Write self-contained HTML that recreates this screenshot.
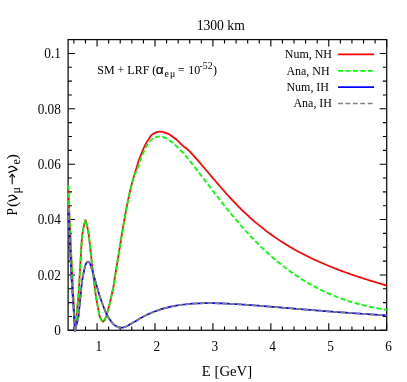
<!DOCTYPE html>
<html><head><meta charset="utf-8"><title>plot</title>
<style>html,body{margin:0;padding:0;background:#fff;}body{width:407px;height:382px;overflow:hidden;position:relative;font-family:"Liberation Serif",serif;}</style></head>
<body>
<svg width="407" height="382" viewBox="0 0 407 382" style="position:absolute;left:0;top:0;will-change:transform;opacity:0.999">
<rect width="407" height="382" fill="#fff"/>
<path d="M73.89 330.3v-3.8M73.89 39.6v3.8M85.48 330.3v-3.8M85.48 39.6v3.8M97.06 330.3v-7M97.06 39.6v7M108.65 330.3v-3.8M108.65 39.6v3.8M120.23 330.3v-3.8M120.23 39.6v3.8M131.82 330.3v-3.8M131.82 39.6v3.8M143.41 330.3v-3.8M143.41 39.6v3.8M154.99 330.3v-7M154.99 39.6v7M166.58 330.3v-3.8M166.58 39.6v3.8M178.16 330.3v-3.8M178.16 39.6v3.8M189.75 330.3v-3.8M189.75 39.6v3.8M201.33 330.3v-3.8M201.33 39.6v3.8M212.92 330.3v-7M212.92 39.6v7M224.50 330.3v-3.8M224.50 39.6v3.8M236.09 330.3v-3.8M236.09 39.6v3.8M247.67 330.3v-3.8M247.67 39.6v3.8M259.26 330.3v-3.8M259.26 39.6v3.8M270.85 330.3v-7M270.85 39.6v7M282.43 330.3v-3.8M282.43 39.6v3.8M294.02 330.3v-3.8M294.02 39.6v3.8M305.60 330.3v-3.8M305.60 39.6v3.8M317.19 330.3v-3.8M317.19 39.6v3.8M328.77 330.3v-7M328.77 39.6v7M340.36 330.3v-3.8M340.36 39.6v3.8M351.94 330.3v-3.8M351.94 39.6v3.8M363.53 330.3v-3.8M363.53 39.6v3.8M375.11 330.3v-3.8M375.11 39.6v3.8M386.70 330.3v-7M386.70 39.6v7M68.1 330.30h7M386.7 330.30h-7M68.1 316.46h3.8M386.7 316.46h-3.8M68.1 302.61h3.8M386.7 302.61h-3.8M68.1 288.77h3.8M386.7 288.77h-3.8M68.1 274.93h7M386.7 274.93h-7M68.1 261.09h3.8M386.7 261.09h-3.8M68.1 247.24h3.8M386.7 247.24h-3.8M68.1 233.40h3.8M386.7 233.40h-3.8M68.1 219.56h7M386.7 219.56h-7M68.1 205.71h3.8M386.7 205.71h-3.8M68.1 191.87h3.8M386.7 191.87h-3.8M68.1 178.03h3.8M386.7 178.03h-3.8M68.1 164.19h7M386.7 164.19h-7M68.1 150.34h3.8M386.7 150.34h-3.8M68.1 136.50h3.8M386.7 136.50h-3.8M68.1 122.66h3.8M386.7 122.66h-3.8M68.1 108.81h7M386.7 108.81h-7M68.1 94.97h3.8M386.7 94.97h-3.8M68.1 81.13h3.8M386.7 81.13h-3.8M68.1 67.29h3.8M386.7 67.29h-3.8M68.1 53.44h7M386.7 53.44h-7" stroke="#000" stroke-width="1.1" fill="none"/>
<rect x="68.1" y="39.6" width="318.6" height="290.7" fill="none" stroke="#0a0a0a" stroke-width="1.25"/>
<g fill="none" stroke-linejoin="round" stroke-linecap="butt" stroke-width="1.7">
<path d="M68.10 185.50 L71.57 262.00 L75.05 330.50 L78.52 295.00 L82.00 236.00 L83.76 226.30 L85.47 219.90 L87.24 226.30 L88.95 236.00 L92.42 268.00 L95.90 296.30 L99.38 315.40 L101.10 319.70 L102.85 321.80 L104.60 320.10 L106.32 316.00 L109.80 303.50 L113.28 287.50 L116.75 266.00 C117.33 262.40 119.07 251.52 120.22 244.40 C121.38 237.28 122.54 229.92 123.70 223.30 C124.86 216.68 126.02 210.52 127.17 204.70 C128.33 198.88 129.49 193.23 130.65 188.40 C131.81 183.57 133.28 178.70 134.12 175.70 C134.97 172.70 134.95 172.87 135.70 170.40 C136.45 167.93 137.50 164.05 138.60 160.90 C139.70 157.75 141.18 154.22 142.30 151.50 C143.42 148.78 144.28 146.58 145.30 144.60 C146.32 142.62 147.37 141.17 148.40 139.60 C149.43 138.03 150.32 136.37 151.50 135.20 C152.68 134.03 154.05 133.18 155.50 132.60 C156.95 132.02 158.63 131.70 160.20 131.70 C161.77 131.70 163.42 132.17 164.90 132.60 C166.38 133.03 167.70 133.52 169.10 134.30 C170.50 135.08 171.90 136.23 173.30 137.30 C174.70 138.37 176.12 139.48 177.50 140.70 C178.88 141.92 180.35 143.43 181.60 144.60 C182.85 145.77 184.27 147.14 185.00 147.70 C185.73 148.26 185.17 147.28 186.00 147.98 C186.83 148.67 188.67 150.53 190.00 151.89 C191.33 153.25 192.67 154.68 194.00 156.13 C195.33 157.58 196.67 159.09 198.00 160.61 C199.33 162.13 200.67 163.68 202.00 165.24 C203.33 166.80 204.67 168.39 206.00 169.97 C207.33 171.55 208.67 173.14 210.00 174.73 C211.33 176.31 212.67 177.90 214.00 179.48 C215.33 181.05 216.67 182.62 218.00 184.17 C219.33 185.72 220.67 187.27 222.00 188.79 C223.33 190.31 224.67 191.81 226.00 193.30 C227.33 194.78 228.67 196.25 230.00 197.69 C231.33 199.13 232.67 200.55 234.00 201.95 C235.33 203.35 236.67 204.72 238.00 206.07 C239.33 207.42 240.67 208.74 242.00 210.04 C243.33 211.34 244.67 212.61 246.00 213.86 C247.33 215.11 248.67 216.34 250.00 217.54 C251.33 218.74 252.67 219.92 254.00 221.07 C255.33 222.22 256.67 223.35 258.00 224.45 C259.33 225.56 260.67 226.64 262.00 227.70 C263.33 228.76 264.67 229.79 266.00 230.81 C267.33 231.82 268.67 232.81 270.00 233.78 C271.33 234.75 272.67 235.70 274.00 236.64 C275.33 237.57 276.67 238.48 278.00 239.37 C279.33 240.26 280.67 241.13 282.00 241.98 C283.33 242.84 284.67 243.67 286.00 244.49 C287.33 245.31 288.67 246.11 290.00 246.90 C291.33 247.69 292.67 248.46 294.00 249.21 C295.33 249.96 296.67 250.70 298.00 251.43 C299.33 252.15 300.67 252.86 302.00 253.56 C303.33 254.25 304.67 254.94 306.00 255.61 C307.33 256.28 308.67 256.93 310.00 257.58 C311.33 258.22 312.67 258.86 314.00 259.48 C315.33 260.10 316.67 260.71 318.00 261.31 C319.33 261.91 320.67 262.50 322.00 263.08 C323.33 263.66 324.67 264.23 326.00 264.79 C327.33 265.35 328.67 265.90 330.00 266.44 C331.33 266.98 332.67 267.51 334.00 268.04 C335.33 268.56 336.67 269.08 338.00 269.59 C339.33 270.10 340.67 270.60 342.00 271.10 C343.33 271.59 344.67 272.08 346.00 272.56 C347.33 273.04 348.67 273.51 350.00 273.98 C351.33 274.45 352.67 274.91 354.00 275.36 C355.33 275.82 356.67 276.27 358.00 276.71 C359.33 277.16 360.67 277.59 362.00 278.03 C363.33 278.46 364.67 278.89 366.00 279.31 C367.33 279.74 368.67 280.15 370.00 280.57 C371.33 280.98 372.67 281.39 374.00 281.80 C375.33 282.20 376.67 282.60 378.00 283.00 C379.33 283.40 380.67 283.79 382.00 284.18 C383.33 284.57 385.22 285.11 386.00 285.34 C386.78 285.56 386.58 285.50 386.70 285.54" stroke="#ff0000"/>
<path d="M68.10 185.50 L71.57 262.00 L75.05 330.50 L78.52 295.00 L82.00 236.00 L83.76 226.30 L85.47 219.90 L87.24 226.30 L88.95 236.00 L92.42 268.00 L95.90 296.30 L99.38 315.40 L101.10 319.70 L102.85 321.80 L104.60 320.10 L106.32 316.00 L109.80 303.50 L113.28 287.50 L116.75 266.00 C117.33 262.40 119.07 251.52 120.22 244.40 C121.38 237.28 122.54 229.92 123.70 223.30 C124.86 216.68 126.02 210.52 127.17 204.70 C128.33 198.88 129.49 193.23 130.65 188.40 C131.81 183.57 133.10 178.70 134.12 175.70 C135.15 172.70 135.84 172.87 136.80 170.40 C137.76 167.93 138.72 164.05 139.90 160.90 C141.08 157.75 142.97 153.70 143.90 151.50 C144.83 149.30 144.72 149.15 145.50 147.70 C146.28 146.25 147.55 144.18 148.60 142.80 C149.65 141.42 150.60 140.35 151.80 139.40 C153.00 138.45 154.48 137.58 155.80 137.10 C157.12 136.62 158.37 136.47 159.70 136.50 C161.03 136.53 162.42 136.82 163.80 137.30 C165.18 137.78 166.60 138.53 168.00 139.40 C169.40 140.27 170.80 141.37 172.20 142.50 C173.60 143.63 175.00 144.88 176.40 146.20 C177.80 147.52 179.17 149.00 180.60 150.40 C182.03 151.80 184.10 153.60 185.00 154.60 C185.90 155.60 185.17 155.30 186.00 156.41 C186.83 157.52 188.67 159.60 190.00 161.25 C191.33 162.89 192.67 164.57 194.00 166.26 C195.33 167.95 196.67 169.67 198.00 171.40 C199.33 173.13 200.67 174.87 202.00 176.61 C203.33 178.36 204.67 180.11 206.00 181.86 C207.33 183.61 208.67 185.37 210.00 187.12 C211.33 188.86 212.67 190.61 214.00 192.35 C215.33 194.08 216.67 195.81 218.00 197.53 C219.33 199.25 220.67 200.96 222.00 202.65 C223.33 204.34 224.67 206.02 226.00 207.69 C227.33 209.35 228.67 211.00 230.00 212.63 C231.33 214.26 232.67 215.87 234.00 217.46 C235.33 219.06 236.67 220.63 238.00 222.18 C239.33 223.74 240.67 225.27 242.00 226.78 C243.33 228.29 244.67 229.79 246.00 231.25 C247.33 232.72 248.67 234.17 250.00 235.59 C251.33 237.01 252.67 238.41 254.00 239.79 C255.33 241.17 256.67 242.52 258.00 243.85 C259.33 245.18 260.67 246.49 262.00 247.78 C263.33 249.06 264.67 250.32 266.00 251.56 C267.33 252.79 268.67 254.01 270.00 255.20 C271.33 256.39 272.67 257.55 274.00 258.70 C275.33 259.84 276.67 260.96 278.00 262.06 C279.33 263.16 280.67 264.23 282.00 265.28 C283.33 266.34 284.67 267.36 286.00 268.37 C287.33 269.38 288.67 270.36 290.00 271.33 C291.33 272.29 292.67 273.23 294.00 274.15 C295.33 275.07 296.67 275.97 298.00 276.84 C299.33 277.72 300.67 278.58 302.00 279.41 C303.33 280.25 304.67 281.06 306.00 281.86 C307.33 282.65 308.67 283.43 310.00 284.18 C311.33 284.94 312.67 285.67 314.00 286.39 C315.33 287.11 316.67 287.81 318.00 288.49 C319.33 289.17 320.67 289.83 322.00 290.47 C323.33 291.11 324.67 291.74 326.00 292.35 C327.33 292.95 328.67 293.54 330.00 294.12 C331.33 294.69 332.67 295.25 334.00 295.79 C335.33 296.33 336.67 296.85 338.00 297.36 C339.33 297.87 340.67 298.36 342.00 298.84 C343.33 299.31 344.67 299.78 346.00 300.22 C347.33 300.67 348.67 301.10 350.00 301.52 C351.33 301.94 352.67 302.34 354.00 302.73 C355.33 303.12 356.67 303.49 358.00 303.85 C359.33 304.22 360.67 304.56 362.00 304.90 C363.33 305.24 364.67 305.56 366.00 305.87 C367.33 306.18 368.67 306.48 370.00 306.76 C371.33 307.05 372.67 307.32 374.00 307.58 C375.33 307.85 376.67 308.10 378.00 308.34 C379.33 308.57 380.67 308.80 382.00 309.02 C383.33 309.24 385.22 309.52 386.00 309.64 C386.78 309.76 386.58 309.72 386.70 309.74" stroke="#00ff00" stroke-width="1.8" stroke-dasharray="4.9 2.5"/>
<path d="M68.10 208.00 L71.57 280.00 L75.05 331.00 L78.52 316.50 L82.00 281.00 C82.58 278.33 84.32 268.17 85.47 265.00 C86.63 261.83 87.79 261.00 88.95 262.00 C90.11 263.00 91.27 267.50 92.42 271.00 C93.58 274.50 94.74 279.00 95.90 283.00 C97.06 287.00 98.22 291.33 99.38 295.00 C100.53 298.67 101.69 301.88 102.85 305.00 C104.01 308.12 105.17 311.28 106.32 313.70 C107.48 316.12 108.64 317.78 109.80 319.50 C110.96 321.22 112.12 322.83 113.28 324.00 C114.43 325.17 115.59 325.88 116.75 326.50 C117.91 327.12 119.07 327.57 120.22 327.70 C121.38 327.83 122.54 327.58 123.70 327.30 C124.86 327.02 126.02 326.57 127.17 326.00 C128.33 325.43 129.49 324.57 130.65 323.90 C131.81 323.23 132.62 322.90 134.12 322.00 C135.63 321.10 138.72 319.10 139.70 318.50 C140.68 317.90 139.28 318.76 140.00 318.38 C140.72 318.01 142.67 316.94 144.00 316.26 C145.33 315.59 146.67 314.94 148.00 314.33 C149.33 313.71 150.67 313.13 152.00 312.57 C153.33 312.02 154.67 311.50 156.00 311.00 C157.33 310.51 158.67 310.05 160.00 309.61 C161.33 309.18 162.67 308.77 164.00 308.39 C165.33 308.01 166.67 307.66 168.00 307.33 C169.33 307.00 170.67 306.70 172.00 306.42 C173.33 306.14 174.67 305.88 176.00 305.64 C177.33 305.41 178.67 305.19 180.00 305.00 C181.33 304.80 182.67 304.63 184.00 304.47 C185.33 304.31 186.67 304.17 188.00 304.05 C189.33 303.92 190.67 303.81 192.00 303.72 C193.33 303.62 194.67 303.54 196.00 303.48 C197.33 303.41 198.67 303.35 200.00 303.31 C201.33 303.27 202.67 303.24 204.00 303.21 C205.33 303.19 206.67 303.18 208.00 303.18 C209.33 303.17 210.67 303.18 212.00 303.19 C213.33 303.21 214.67 303.23 216.00 303.26 C217.33 303.28 218.67 303.32 220.00 303.36 C221.33 303.40 222.67 303.45 224.00 303.51 C225.33 303.56 226.67 303.62 228.00 303.68 C229.33 303.74 230.67 303.81 232.00 303.88 C233.33 303.95 234.67 304.03 236.00 304.11 C237.33 304.19 238.67 304.27 240.00 304.36 C241.33 304.44 242.67 304.53 244.00 304.62 C245.33 304.71 246.67 304.81 248.00 304.90 C249.33 305.00 250.67 305.09 252.00 305.19 C253.33 305.29 254.67 305.39 256.00 305.50 C257.33 305.60 258.67 305.70 260.00 305.81 C261.33 305.91 262.67 306.02 264.00 306.13 C265.33 306.23 266.67 306.34 268.00 306.45 C269.33 306.56 270.67 306.67 272.00 306.78 C273.33 306.89 274.67 307.00 276.00 307.11 C277.33 307.22 278.67 307.33 280.00 307.44 C281.33 307.55 282.67 307.67 284.00 307.78 C285.33 307.89 286.67 308.00 288.00 308.11 C289.33 308.22 290.67 308.33 292.00 308.44 C293.33 308.56 294.67 308.67 296.00 308.78 C297.33 308.89 298.67 309.00 300.00 309.11 C301.33 309.22 302.67 309.33 304.00 309.43 C305.33 309.54 306.67 309.65 308.00 309.76 C309.33 309.87 310.67 309.98 312.00 310.08 C313.33 310.19 314.67 310.30 316.00 310.40 C317.33 310.51 318.67 310.61 320.00 310.72 C321.33 310.82 322.67 310.93 324.00 311.03 C325.33 311.13 326.67 311.23 328.00 311.34 C329.33 311.44 330.67 311.54 332.00 311.64 C333.33 311.74 334.67 311.84 336.00 311.94 C337.33 312.04 338.67 312.14 340.00 312.23 C341.33 312.33 342.67 312.43 344.00 312.52 C345.33 312.62 346.67 312.71 348.00 312.81 C349.33 312.90 350.67 313.00 352.00 313.09 C353.33 313.18 354.67 313.28 356.00 313.37 C357.33 313.46 358.67 313.55 360.00 313.64 C361.33 313.73 362.67 313.82 364.00 313.91 C365.33 313.99 366.67 314.08 368.00 314.17 C369.33 314.26 370.67 314.34 372.00 314.43 C373.33 314.51 374.67 314.60 376.00 314.68 C377.33 314.76 378.67 314.85 380.00 314.93 C381.33 315.01 382.88 315.11 384.00 315.17 C385.12 315.24 386.25 315.31 386.70 315.34" stroke="#0000ff"/>
<path d="M68.10 208.00 L71.57 280.00 L75.05 331.00 L78.52 316.50 L82.00 281.00 C82.58 278.33 84.32 268.17 85.47 265.00 C86.63 261.83 87.79 261.00 88.95 262.00 C90.11 263.00 91.27 267.50 92.42 271.00 C93.58 274.50 94.74 279.00 95.90 283.00 C97.06 287.00 98.22 291.33 99.38 295.00 C100.53 298.67 101.69 301.88 102.85 305.00 C104.01 308.12 105.17 311.28 106.32 313.70 C107.48 316.12 108.64 317.78 109.80 319.50 C110.96 321.22 112.12 322.83 113.28 324.00 C114.43 325.17 115.59 325.88 116.75 326.50 C117.91 327.12 119.07 327.57 120.22 327.70 C121.38 327.83 122.54 327.58 123.70 327.30 C124.86 327.02 126.02 326.57 127.17 326.00 C128.33 325.43 129.49 324.57 130.65 323.90 C131.81 323.23 132.62 322.90 134.12 322.00 C135.63 321.10 138.72 319.10 139.70 318.50 C140.68 317.90 139.28 318.76 140.00 318.38 C140.72 318.01 142.67 316.94 144.00 316.26 C145.33 315.59 146.67 314.94 148.00 314.33 C149.33 313.71 150.67 313.13 152.00 312.57 C153.33 312.02 154.67 311.50 156.00 311.00 C157.33 310.51 158.67 310.05 160.00 309.61 C161.33 309.18 162.67 308.77 164.00 308.39 C165.33 308.01 166.67 307.66 168.00 307.33 C169.33 307.00 170.67 306.70 172.00 306.42 C173.33 306.14 174.67 305.88 176.00 305.64 C177.33 305.41 178.67 305.19 180.00 305.00 C181.33 304.80 182.67 304.63 184.00 304.47 C185.33 304.31 186.67 304.17 188.00 304.05 C189.33 303.92 190.67 303.81 192.00 303.72 C193.33 303.62 194.67 303.54 196.00 303.48 C197.33 303.41 198.67 303.35 200.00 303.31 C201.33 303.27 202.67 303.24 204.00 303.21 C205.33 303.19 206.67 303.18 208.00 303.18 C209.33 303.17 210.67 303.18 212.00 303.19 C213.33 303.21 214.67 303.23 216.00 303.26 C217.33 303.28 218.67 303.32 220.00 303.36 C221.33 303.40 222.67 303.45 224.00 303.51 C225.33 303.56 226.67 303.62 228.00 303.68 C229.33 303.74 230.67 303.81 232.00 303.88 C233.33 303.95 234.67 304.03 236.00 304.11 C237.33 304.19 238.67 304.27 240.00 304.36 C241.33 304.44 242.67 304.53 244.00 304.62 C245.33 304.71 246.67 304.81 248.00 304.90 C249.33 305.00 250.67 305.09 252.00 305.19 C253.33 305.29 254.67 305.39 256.00 305.50 C257.33 305.60 258.67 305.70 260.00 305.81 C261.33 305.91 262.67 306.02 264.00 306.13 C265.33 306.23 266.67 306.34 268.00 306.45 C269.33 306.56 270.67 306.67 272.00 306.78 C273.33 306.89 274.67 307.00 276.00 307.11 C277.33 307.22 278.67 307.33 280.00 307.44 C281.33 307.55 282.67 307.67 284.00 307.78 C285.33 307.89 286.67 308.00 288.00 308.11 C289.33 308.22 290.67 308.33 292.00 308.44 C293.33 308.56 294.67 308.67 296.00 308.78 C297.33 308.89 298.67 309.00 300.00 309.11 C301.33 309.22 302.67 309.33 304.00 309.43 C305.33 309.54 306.67 309.65 308.00 309.76 C309.33 309.87 310.67 309.98 312.00 310.08 C313.33 310.19 314.67 310.30 316.00 310.40 C317.33 310.51 318.67 310.61 320.00 310.72 C321.33 310.82 322.67 310.93 324.00 311.03 C325.33 311.13 326.67 311.23 328.00 311.34 C329.33 311.44 330.67 311.54 332.00 311.64 C333.33 311.74 334.67 311.84 336.00 311.94 C337.33 312.04 338.67 312.14 340.00 312.23 C341.33 312.33 342.67 312.43 344.00 312.52 C345.33 312.62 346.67 312.71 348.00 312.81 C349.33 312.90 350.67 313.00 352.00 313.09 C353.33 313.18 354.67 313.28 356.00 313.37 C357.33 313.46 358.67 313.55 360.00 313.64 C361.33 313.73 362.67 313.82 364.00 313.91 C365.33 313.99 366.67 314.08 368.00 314.17 C369.33 314.26 370.67 314.34 372.00 314.43 C373.33 314.51 374.67 314.60 376.00 314.68 C377.33 314.76 378.67 314.85 380.00 314.93 C381.33 315.01 382.88 315.11 384.00 315.17 C385.12 315.24 386.25 315.31 386.70 315.34" stroke="#808080" stroke-width="1.8" stroke-dasharray="4.9 2.5"/>
<path d="M338.1 54.3H374.1" stroke="#ff0000"/>
<path d="M338.1 70.9H374.1" stroke="#00ff00" stroke-dasharray="4.9 2.5"/>
<path d="M338.1 87.2H374.1" stroke="#0000ff"/>
<path d="M338.1 103.5H374.1" stroke="#808080" stroke-dasharray="4.8 2.6"/>
</g>
<g font-family="'Liberation Serif', serif" fill="#000">
<text transform="translate(60.90 335.20) scale(0.95 1)" font-size="14.0" text-anchor="end">0</text>
<text transform="translate(60.90 279.83) scale(0.95 1)" font-size="14.0" text-anchor="end">0.02</text>
<text transform="translate(60.90 224.46) scale(0.95 1)" font-size="14.0" text-anchor="end">0.04</text>
<text transform="translate(60.90 169.09) scale(0.95 1)" font-size="14.0" text-anchor="end">0.06</text>
<text transform="translate(60.90 113.71) scale(0.95 1)" font-size="14.0" text-anchor="end">0.08</text>
<text transform="translate(60.90 58.34) scale(0.95 1)" font-size="14.0" text-anchor="end">0.1</text>
<text transform="translate(98.86 351.20) scale(0.95 1)" font-size="14.0" text-anchor="middle">1</text>
<text transform="translate(156.79 351.20) scale(0.95 1)" font-size="14.0" text-anchor="middle">2</text>
<text transform="translate(214.72 351.20) scale(0.95 1)" font-size="14.0" text-anchor="middle">3</text>
<text transform="translate(272.65 351.20) scale(0.95 1)" font-size="14.0" text-anchor="middle">4</text>
<text transform="translate(330.57 351.20) scale(0.95 1)" font-size="14.0" text-anchor="middle">5</text>
<text transform="translate(388.50 351.20) scale(0.95 1)" font-size="14.0" text-anchor="middle">6</text>
<text transform="translate(220.70 29.90) scale(0.975 1)" font-size="14.0" text-anchor="middle">1300 km</text>
<text transform="translate(227.00 375.50) scale(1.03 1)" font-size="14.3" text-anchor="middle">E [GeV]</text>
<g transform="translate(17 216) rotate(-90)">
<text transform="translate(0.60 0.00) scale(0.9 1)" font-size="14.7" >P</text>
<text transform="translate(9.10 0.00) scale(1.1 1)" font-size="14.7" >(</text>
<path transform="translate(14.9 0)" d="M0 -8.1 L2.8 0 C4.4 -2 6.3 -3.6 6 -5.4 C5.85 -6.7 5.4 -7.5 4.9 -8.1" fill="none" stroke="#000" stroke-width="1.25" stroke-linecap="round" stroke-linejoin="round"/>
<text transform="translate(22.60 3.30) scale(1.0 1)" font-size="12" >μ</text>
<path d="M31.8 -4.8H41.6M38.6 -7.5L42 -4.8L38.6 -2.1" fill="none" stroke="#000" stroke-width="1.05" stroke-linejoin="miter"/>
<path transform="translate(43.6 0)" d="M0 -8.1 L2.8 0 C4.4 -2 6.3 -3.6 6 -5.4 C5.85 -6.7 5.4 -7.5 4.9 -8.1" fill="none" stroke="#000" stroke-width="1.25" stroke-linecap="round" stroke-linejoin="round"/>
<text transform="translate(51.50 3.10) scale(1.0 1)" font-size="12" >e</text>
<text transform="translate(56.40 0.00) scale(1.1 1)" font-size="14.7" >)</text>
</g>
<text transform="translate(332.00 58.20) scale(0.975 1)" font-size="12.3" text-anchor="end">Num, NH</text>
<text transform="translate(329.60 74.60) scale(0.975 1)" font-size="12.3" text-anchor="end">Ana, NH</text>
<text transform="translate(329.00 91.00) scale(0.975 1)" font-size="12.3" text-anchor="end">Num, IH</text>
<text transform="translate(332.00 107.40) scale(0.975 1)" font-size="12.3" text-anchor="end">Ana, IH</text>
<text transform="translate(97.30 73.50) scale(0.975 1)" font-size="12.3" text-anchor="start">SM + LRF (</text>
<text transform="translate(155.7 73.6)" font-size="13.7" font-family="'Liberation Sans', sans-serif" stroke="#000" stroke-width="0.15">α</text>
<text transform="translate(164.40 76.80) scale(1.0 1)" font-size="9.8" text-anchor="start">e</text>
<text transform="translate(170.10 76.80) scale(1.0 1)" font-size="9.8" text-anchor="start">μ</text>
<text transform="translate(177.80 73.50) scale(0.975 1)" font-size="12.3" text-anchor="start">=</text>
<text transform="translate(188.20 73.50) scale(0.975 1)" font-size="12.3" text-anchor="start">10</text>
<text transform="translate(199.50 68.60) scale(1.0 1)" font-size="9.8" text-anchor="start">-52</text>
<text transform="translate(212.90 73.50) scale(0.975 1)" font-size="12.3" text-anchor="start">)</text>
</g>
</svg>
</body></html>
